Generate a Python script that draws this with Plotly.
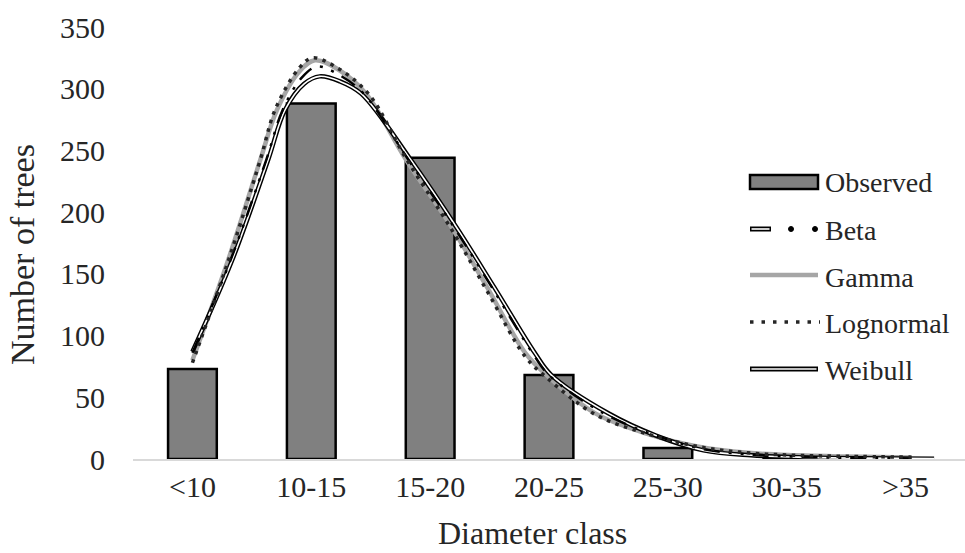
import plotly.graph_objects as go

# ---- data ----
categories = ["<10", "10-15", "15-20", "20-25", "25-30", "30-35", ">35"]
observed = [73, 288, 244, 68, 9, 0, 0]

# fitted curves (diameter in cm, number of trees)
gamma_x = [7.5, 9.0, 10.35, 11.06, 12.0, 12.65, 13.6, 14.8, 16.5, 18.4, 19.9, 21.5, 22.4, 24.45, 26.7, 28.8, 30.85, 32.9, 35.0, 37.75]
gamma_y = [80, 161, 242, 283, 314, 323, 316, 296, 242, 188, 139, 86, 68, 37, 20, 10, 5, 3, 2, 1.2]

lognormal_x = [7.5, 9.0, 10.35, 11.0, 12.0, 12.55, 13.5, 14.9, 16.5, 18.4, 19.9, 21.5, 22.4, 24.45, 26.7, 28.8, 30.85, 32.9, 35.0, 37.75]
lognormal_y = [78, 160, 242, 284, 317, 325, 318, 296, 243, 186, 136, 83, 66, 36, 20, 10, 5, 3, 2.2, 1.5]

beta_x = [7.5, 9.1, 10.6, 11.3, 12.1, 12.75, 13.6, 14.7, 16.6, 18.5, 20.1, 21.8, 22.5, 24.8, 27.0, 29.0, 31.0, 33.0, 35.0, 37.75]
beta_y = [86, 161, 242, 283, 309, 318, 312, 296, 242, 188, 139, 86, 68, 37, 19, 8, 3.5, 1.8, 1, 0.5]

weibull_x = [7.5, 9.17, 10.68, 11.4, 12.2, 12.85, 13.7, 14.6, 16.7, 18.6, 20.2, 21.9, 22.6, 25.0, 27.0, 29.0, 31.0, 33.0, 35.5, 38.7]
weibull_y = [87, 161, 242, 283, 304, 310, 306, 296, 242, 188, 139, 86, 68, 37, 19, 7, 3, 1.5, 0.7, 0.3]

legend_names = ["Observed", "Beta", "Gamma", "Lognormal", "Weibull"]
x_title = "Diameter class"
y_title = "Number of trees"

FONT = "Liberation Serif, Times New Roman, serif"
TXT = "#262626"
FS = 30

fig = go.Figure()

fig.add_trace(go.Bar(
    x=categories, y=observed, width=0.41,
    marker=dict(color="#808080", line=dict(color="black", width=2.5)),
    showlegend=False, xaxis="x", yaxis="y"))

fig.add_trace(go.Scatter(
    x=gamma_x, y=gamma_y, mode="lines", line=dict(color="#a6a6a6", width=4.5, shape="spline"),
    showlegend=False, xaxis="x2", yaxis="y"))

fig.add_trace(go.Scatter(
    x=weibull_x, y=weibull_y, mode="lines", line=dict(color="black", width=4.5, shape="spline"),
    showlegend=False, xaxis="x2", yaxis="y"))
fig.add_trace(go.Scatter(
    x=weibull_x, y=weibull_y, mode="lines", line=dict(color="white", width=1.6, shape="spline"),
    showlegend=False, xaxis="x2", yaxis="y"))

fig.add_trace(go.Scatter(
    x=beta_x, y=beta_y, mode="lines",
    line=dict(color="black", width=2.5, shape="spline", dash="16px,9px,3px,9px,3px,9px"),
    showlegend=False, xaxis="x2", yaxis="y"))

fig.add_trace(go.Scatter(
    x=lognormal_x, y=lognormal_y, mode="lines",
    line=dict(color="#262626", width=3.5, shape="spline", dash="3.5px,5.5px"),
    showlegend=False, xaxis="x2", yaxis="y"))

# ---- custom legend (paper coords) ----
L, R, T, B = 133, 965, 27, 459
def px(x):
    return (x - L) / (R - L)
def py(y):
    return (B - y) / (B - T)

shapes = []
shapes.append(dict(type="rect", xref="paper", yref="paper",
                   x0=px(750), x1=px(818), y0=py(189), y1=py(175),
                   fillcolor="#808080", line=dict(color="black", width=2.5)))
shapes.append(dict(type="line", xref="paper", yref="paper",
                   x0=px(750), x1=px(771), y0=py(229), y1=py(229),
                   line=dict(color="black", width=5)))
shapes.append(dict(type="line", xref="paper", yref="paper",
                   x0=px(751.5), x1=px(769.5), y0=py(229), y1=py(229),
                   line=dict(color="white", width=1.6)))
for cx in (791, 815):
    shapes.append(dict(type="circle", xref="paper", yref="paper",
                       x0=px(cx - 2.5), x1=px(cx + 2.5), y0=py(231.5), y1=py(226.5),
                       fillcolor="black", line=dict(color="black", width=1)))
shapes.append(dict(type="line", xref="paper", yref="paper",
                   x0=px(750), x1=px(818), y0=py(275), y1=py(275),
                   line=dict(color="#a6a6a6", width=4.5)))
shapes.append(dict(type="line", xref="paper", yref="paper",
                   x0=px(750), x1=px(820), y0=py(322), y1=py(322),
                   line=dict(color="#262626", width=3.5, dash="3.5px,8px")))
shapes.append(dict(type="line", xref="paper", yref="paper",
                   x0=px(750), x1=px(818), y0=py(369), y1=py(369),
                   line=dict(color="black", width=5)))
shapes.append(dict(type="line", xref="paper", yref="paper",
                   x0=px(751.5), x1=px(816.5), y0=py(369), y1=py(369),
                   line=dict(color="white", width=1.6)))

ann = []
for name, yy in zip(legend_names, [182, 230, 277, 323, 370]):
    ann.append(dict(text=name, xref="paper", yref="paper", x=px(823), y=py(yy),
                    xanchor="left", yanchor="middle", showarrow=False,
                    font=dict(family=FONT, size=28, color=TXT)))
# axis titles
ann.append(dict(text=x_title, xref="paper", yref="paper", x=px(532), y=py(533),
                xanchor="center", yanchor="middle", showarrow=False,
                font=dict(family=FONT, size=32, color=TXT)))
ann.append(dict(text=y_title, xref="paper", yref="paper", x=px(22), y=py(255),
                xanchor="center", yanchor="middle", showarrow=False, textangle=-90,
                font=dict(family=FONT, size=34, color=TXT)))

fig.update_layout(
    width=965, height=553,
    margin=dict(l=L, r=965 - R, t=T, b=553 - B),
    paper_bgcolor="white", plot_bgcolor="white",
    font=dict(family=FONT, size=FS, color=TXT),
    showlegend=False,
    bargap=0.59,
    shapes=shapes, annotations=ann,
    xaxis=dict(type="category", range=[-0.5, 6.5], showgrid=False, zeroline=False,
               showline=True, linecolor="#d9d9d9", linewidth=1.5, ticks="",
               ticklabelstandoff=0,
               tickfont=dict(family=FONT, size=FS, color=TXT)),
    xaxis2=dict(overlaying="x", range=[5, 40], visible=False),
    yaxis=dict(range=[0, 350], dtick=50, showgrid=False, zeroline=False, showline=False,
               ticks="", ticklabelstandoff=27,
               tickfont=dict(family=FONT, size=FS, color=TXT)),
)

fig.write_html("out.html")
